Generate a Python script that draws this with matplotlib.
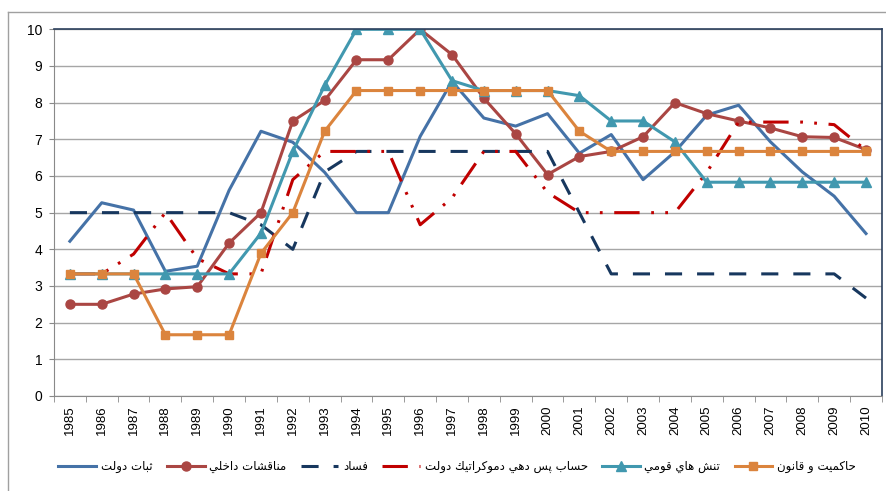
import unicodedata
import matplotlib
matplotlib.use('Agg')
import matplotlib.pyplot as plt
from matplotlib.lines import Line2D

years = [str(y) for y in range(1985, 2011)]

# ثبات دولت
stability = [4.22, 5.27, 5.07, 3.40, 3.54, 5.61, 7.22, 6.92, 6.10, 5.00, 5.00, 7.08, 8.58,
             7.58, 7.36, 7.70, 6.62, 7.13, 5.90, 6.66, 7.66, 7.93, 6.93, 6.11, 5.45, 4.43]
# مناقشات داخلي
conflicts = [2.50, 2.50, 2.78, 2.92, 2.98, 4.17, 5.00, 7.50, 8.06, 9.17, 9.17, 10.00, 9.31,
             8.12, 7.15, 6.04, 6.53, 6.67, 7.07, 8.00, 7.70, 7.50, 7.31, 7.07, 7.05, 6.72]
# فساد
corruption = [5.00, 5.00, 5.00, 5.00, 5.00, 5.00, 4.67, 4.00, 6.11, 6.67, 6.67, 6.67, 6.67,
              6.67, 6.67, 6.67, 5.00, 3.33, 3.33, 3.33, 3.33, 3.33, 3.33, 3.33, 3.33, 2.67]
# حساب پس دهي دموكراتيك دولت
accountability = [3.33, 3.33, 3.87, 5.00, 3.75, 3.33, 3.33, 5.90, 6.67, 6.67, 6.67, 4.67, 5.40,
                  6.67, 6.67, 5.55, 5.00, 5.00, 5.00, 5.00, 6.10, 7.47, 7.47, 7.47, 7.40, 6.70]
# تنش هاي قومي
ethnic = [3.33, 3.33, 3.33, 3.33, 3.33, 3.33, 4.44, 6.67, 8.47, 10.00, 10.00, 10.00, 8.60,
          8.33, 8.33, 8.33, 8.19, 7.50, 7.50, 6.93, 5.83, 5.83, 5.83, 5.83, 5.83, 5.83]
# حاكميت و قانون
law = [3.33, 3.33, 3.33, 1.67, 1.67, 1.67, 3.89, 5.00, 7.22, 8.33, 8.33, 8.33, 8.33,
       8.33, 8.33, 8.33, 7.22, 6.67, 6.67, 6.67, 6.67, 6.67, 6.67, 6.67, 6.67, 6.67]

labels = ['ثبات دولت', 'مناقشات داخلي', 'فساد', 'حساب پس دهي دموكراتيك دولت',
          'تنش هاي قومي', 'حاكميت و قانون']


def shape(text):
    # matplotlib has no arabic shaping, so pick presentation forms and reverse
    def forms(ch):
        try:
            name = unicodedata.name(ch)
        except ValueError:
            return None
        if not name.startswith('ARABIC LETTER'):
            return None
        f = {}
        for k in ('ISOLATED', 'FINAL', 'INITIAL', 'MEDIAL'):
            try:
                f[k] = unicodedata.lookup(name + ' ' + k + ' FORM')
            except KeyError:
                pass
        return f
    out = []
    for i, ch in enumerate(text):
        f = forms(ch)
        if not f:
            out.append(ch)
            continue
        prev = forms(text[i - 1]) if i > 0 else None
        nxt = forms(text[i + 1]) if i < len(text) - 1 else None
        jp = bool(prev) and 'INITIAL' in prev
        jn = bool(nxt) and 'INITIAL' in f
        k = 'MEDIAL' if jp and jn else 'FINAL' if jp else 'INITIAL' if jn else 'ISOLATED'
        out.append(f.get(k, ch))
    return ''.join(reversed(out))


plt.rcParams['font.family'] = ['Liberation Sans', 'DejaVu Sans']

fig = plt.figure(figsize=(8.86, 4.91), dpi=100)
ax = fig.add_axes([0.0609, 0.1935, 0.9345, 0.7468])

x = range(len(years))
lw = 2.2
ax.plot(x, stability, color='#4572A7', lw=lw, label=shape(labels[0]))
ax.plot(x, conflicts, color='#AA4643', lw=lw, marker='o', ms=6.5, label=shape(labels[1]))
ax.plot(x, corruption, color='#17375E', lw=lw, linestyle=(0, (5.6, 4.9)), label=shape(labels[2]))
ax.plot(x, accountability, color='#C00000', lw=lw,
        linestyle=(0, (8.3, 3.8, 0.9, 3.7, 0.9, 3.8)), label=shape(labels[3]))
ax.plot(x, ethnic, color='#4198AF', lw=lw, marker='^', ms=7, label=shape(labels[4]))
ax.plot(x, law, color='#DB843D', lw=lw, marker='s', ms=6.3, label=shape(labels[5]))

ax.set_xlim(-0.5, len(years) - 0.5)
ax.set_ylim(0, 10)
ax.set_yticks(range(0, 11))
ax.set_xticks(list(x))
ax.set_xticklabels(years, rotation=90, fontsize=9.5)
ax.set_xticks([i - 0.5 for i in range(len(years) + 1)], minor=True)
ax.tick_params(axis='x', which='major', length=0, pad=7)
ax.tick_params(axis='x', which='minor', length=4, color='#898989')
ax.tick_params(axis='y', length=3.5, color='#898989', labelsize=10, pad=5)
ax.grid(axis='y', color='#a6a6a6', lw=1.0)
ax.set_axisbelow(True)
for s in ('left', 'bottom'):
    ax.spines[s].set_color('#898989')
for s in ('top', 'right'):
    ax.spines[s].set_color('#2b3f5c')
    ax.spines[s].set_linewidth(1.2)

# outer chart border
fig.add_artist(Line2D([7.5 / 886, 7.5 / 886], [0, 1 - 12 / 491], transform=fig.transFigure,
                      color='#a0a0a0', lw=1))
fig.add_artist(Line2D([7.5 / 886, 1], [1 - 12 / 491, 1 - 12 / 491], transform=fig.transFigure,
                      color='#a0a0a0', lw=1))

fig.legend(loc='center', bbox_to_anchor=(0.516, 0.049), ncol=6, frameon=False,
           prop={'family': ['DejaVu Sans'], 'size': 8.5}, handlelength=3.2,
           handletextpad=0.4, columnspacing=1.2)

fig.savefig('out.png', dpi=100)
